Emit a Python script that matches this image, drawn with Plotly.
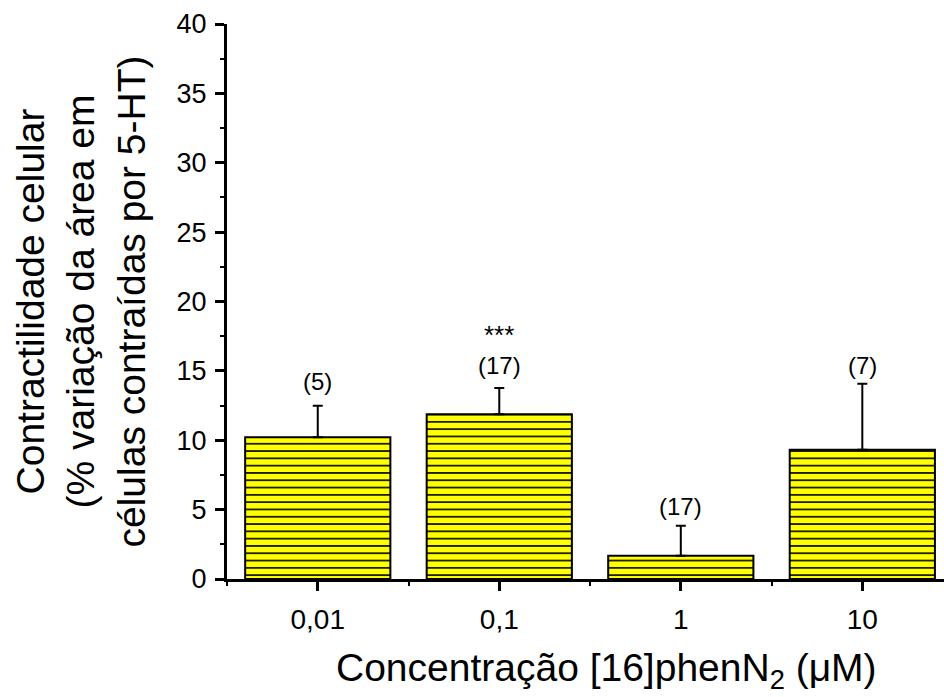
import plotly.graph_objects as go

# Concentrations tested and mean contractility (± SEM)
concentrations = ["0,01", "0,1", "1", "10"]
means = [10.21, 11.88, 1.68, 9.32]
sem = [2.28, 1.89, 2.16, 4.76]
n_cells = ["(5)", "(17)", "(17)", "(7)"]
significance = ["", "***", "", ""]

# positions of the count labels and significance marks (data units)
n_label_y = [14.2, 15.4, 5.2, 15.4]
sig_label_y = [None, 17.6, None, None]

FONT = "Arial, Liberation Sans, Helvetica, sans-serif"
xpos = list(range(len(concentrations)))

fig = go.Figure()
fig.add_trace(
    go.Bar(
        x=xpos,
        y=means,
        width=0.8,
        marker=dict(
            color="#ffff00",
            line=dict(color="black", width=2),
            pattern=dict(shape="-", size=7.3, solidity=0.22,
                         fgcolor="black", bgcolor="#ffff00",
                         fillmode="replace"),
        ),
        error_y=dict(type="data", symmetric=False, array=sem,
                     arrayminus=[0] * len(sem),
                     color="black", thickness=2, width=5),
        showlegend=False,
    )
)

annotations = []
for i, (lab, ly) in enumerate(zip(n_cells, n_label_y)):
    annotations.append(dict(x=i, y=ly, xref="x", yref="y", text=lab,
                            showarrow=False, font=dict(family=FONT, size=24, color="black"),
                            xanchor="center", yanchor="middle"))
for i, (s, sy) in enumerate(zip(significance, sig_label_y)):
    if s:
        annotations.append(dict(x=i, y=sy, xref="x", yref="y", text=s,
                                showarrow=False, font=dict(family=FONT, size=26, color="black"),
                                xanchor="center", yanchor="middle"))

# axis titles
annotations.append(dict(
    x=-0.205, y=0.5, xref="paper", yref="paper",
    text="Contractilidade celular<br>(% variação da área em<br>células contraídas por 5-HT)",
    textangle=-90, showarrow=False, xanchor="center", yanchor="middle",
    font=dict(family=FONT, size=39, color="black"),
))
annotations.append(dict(
    x=0.529, y=-0.164, xref="paper", yref="paper",
    text="Concentração [16]phenN<sub>2</sub> (μM)",
    showarrow=False, xanchor="center", yanchor="middle",
    font=dict(family=FONT, size=39, color="black"),
))

fig.update_layout(
    width=944, height=697,
    margin=dict(l=227, r=0, t=24, b=118),
    plot_bgcolor="white", paper_bgcolor="white",
    bargap=0.2,
    annotations=annotations,
    xaxis=dict(
        range=[-0.5, 3.45],
        tickvals=xpos, ticktext=concentrations,
        showgrid=False, zeroline=False,
        showline=True, linecolor="black", linewidth=3,
        ticks="outside", ticklen=9, tickwidth=3, tickcolor="black",
        ticklabelstandoff=4,
        tickfont=dict(family=FONT, size=28, color="black"),
        minor=dict(ticks="outside", ticklen=4, tickwidth=2, tickcolor="black",
                   tick0=-0.5, dtick=1.0),
    ),
    yaxis=dict(
        range=[0, 40],
        tickvals=[0, 5, 10, 15, 20, 25, 30, 35, 40],
        showgrid=False, zeroline=False,
        showline=True, linecolor="black", linewidth=3,
        ticks="outside", ticklen=9, tickwidth=3, tickcolor="black",
        ticklabelstandoff=3,
        tickfont=dict(family=FONT, size=27, color="black"),
        minor=dict(ticks="outside", ticklen=4, tickwidth=2, tickcolor="black",
                   tick0=2.5, dtick=5),
    ),
)

fig.write_html("out.html")
